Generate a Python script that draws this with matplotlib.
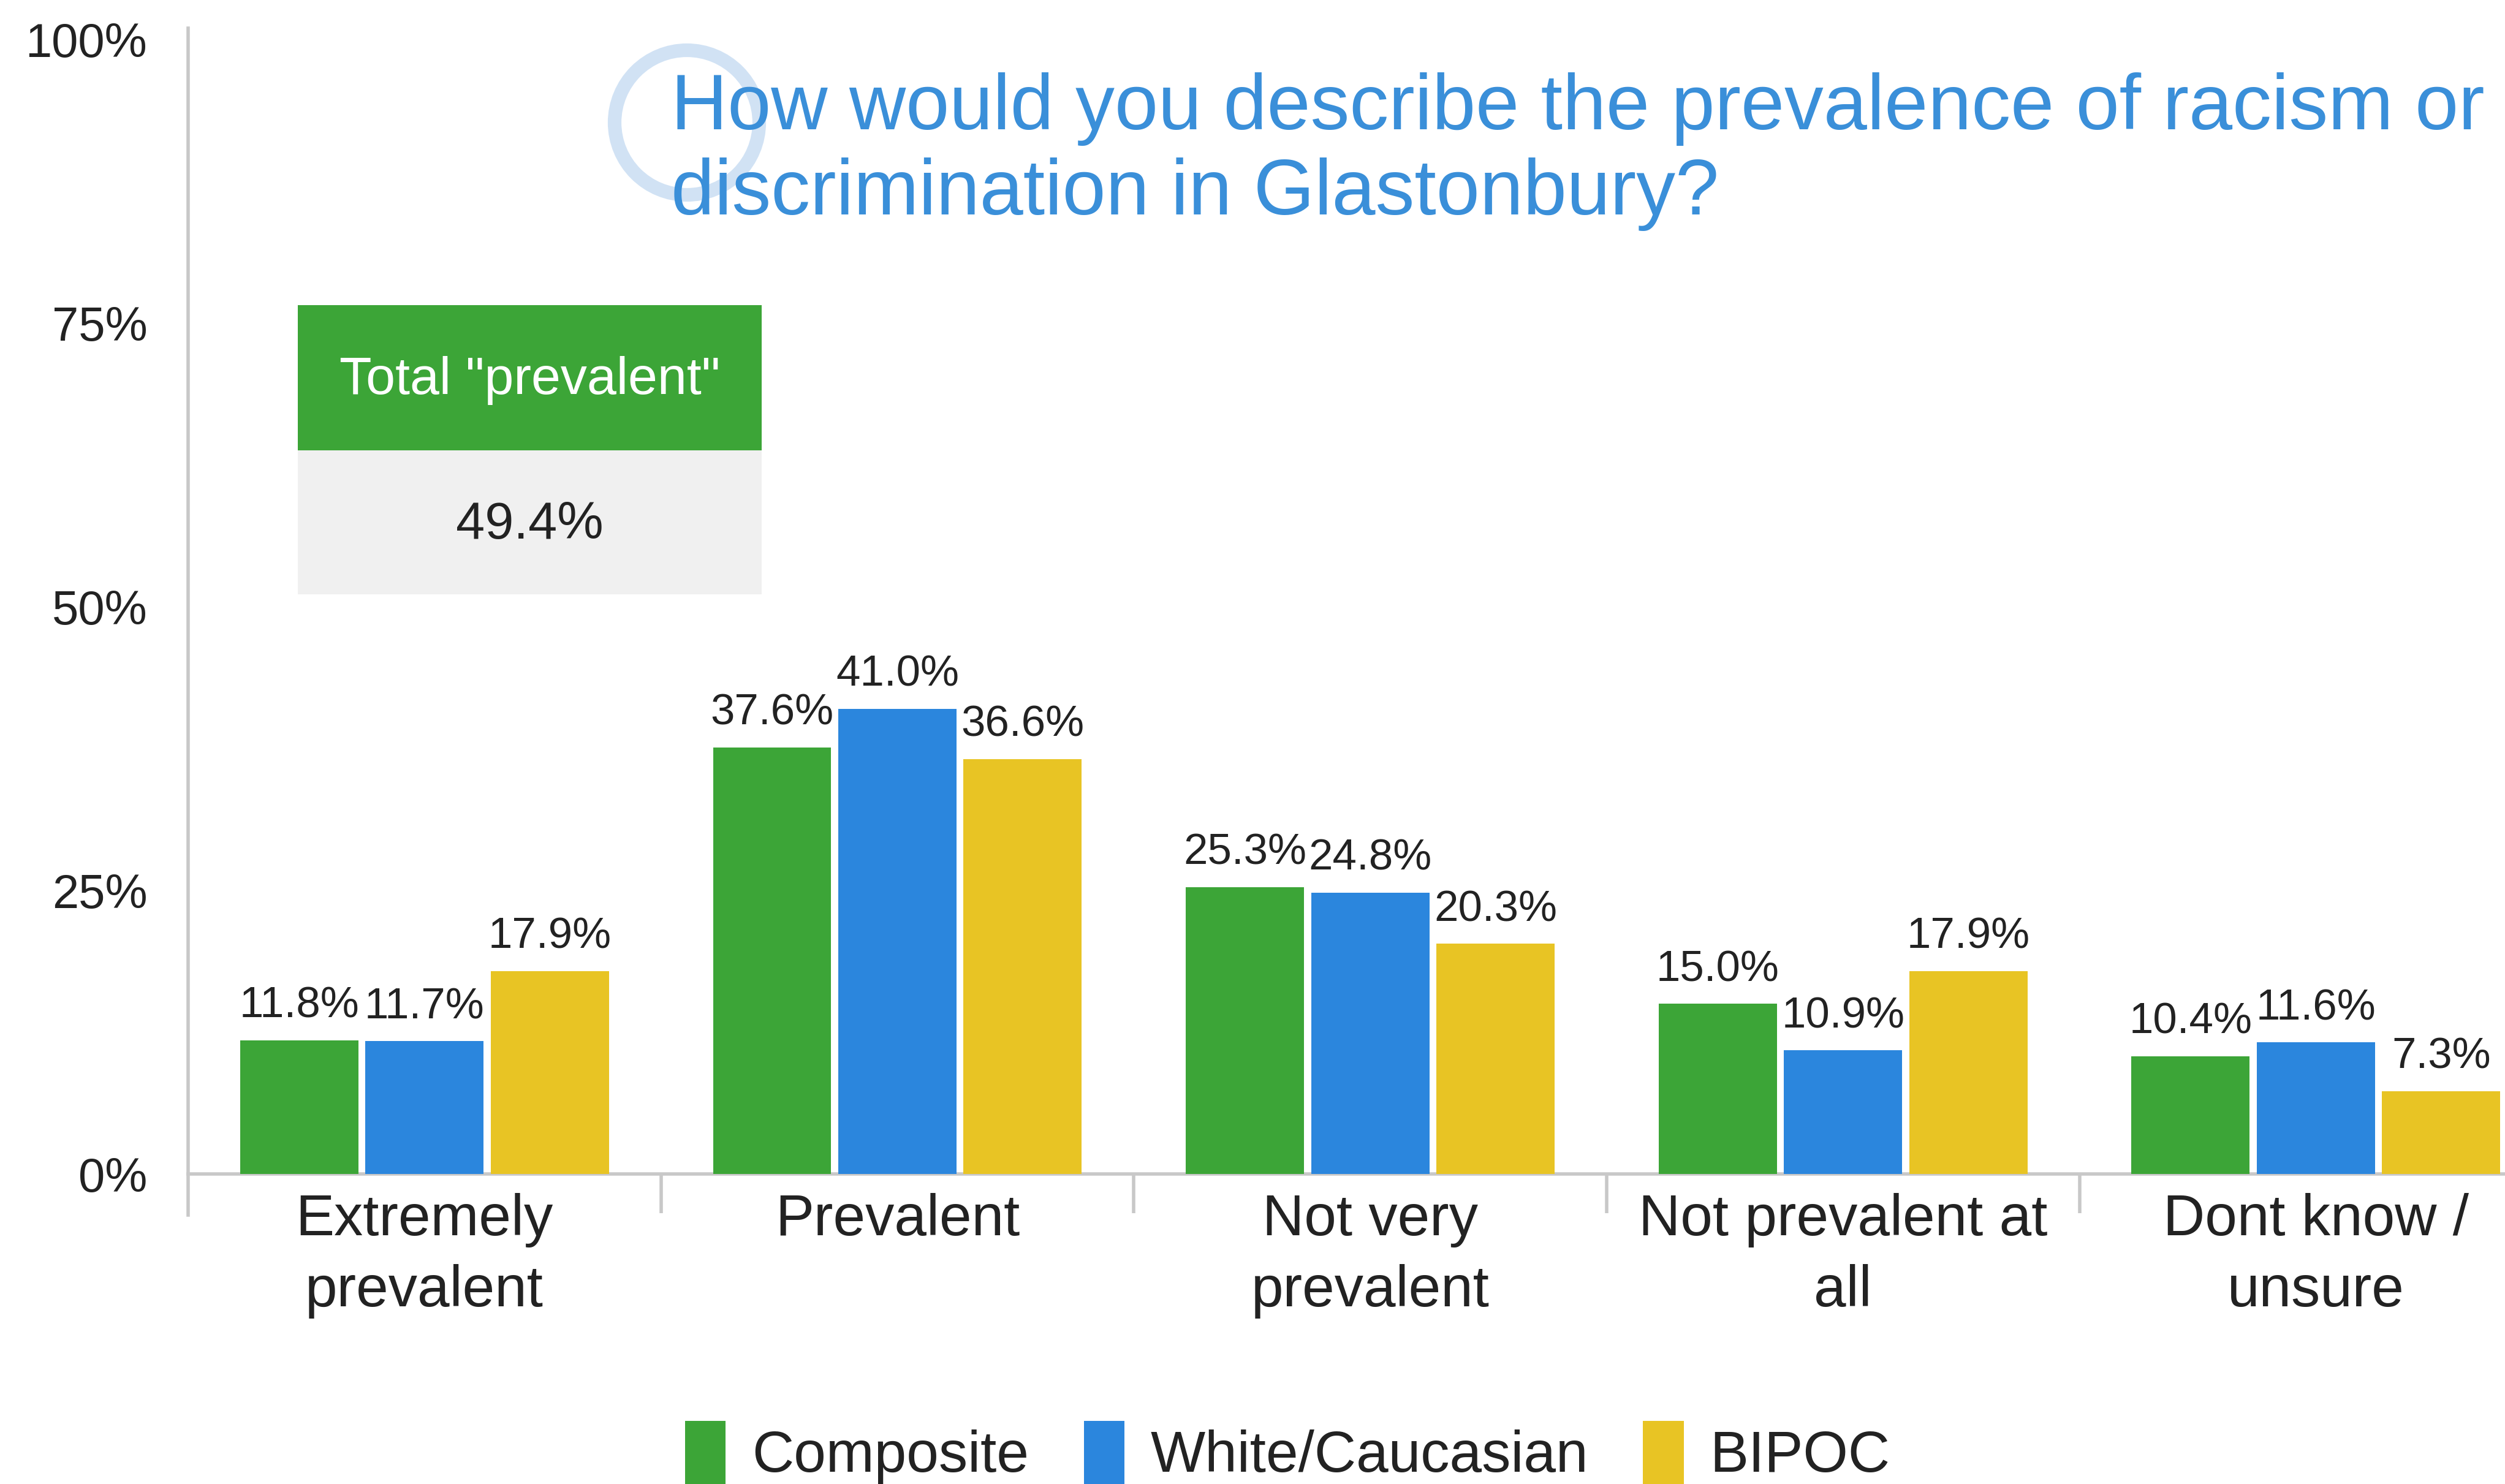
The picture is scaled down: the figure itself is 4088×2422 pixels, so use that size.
import numpy as np
import matplotlib
matplotlib.use('Agg')
import matplotlib.pyplot as plt
from matplotlib.patches import Rectangle, Ellipse

plt.rcParams['font.family'] = ['Liberation Sans', 'DejaVu Sans']

# Dati
categories = ["Extremely\nprevalent", "Prevalent", "Not very\nprevalent",
              "Not prevalent at\nall", "Dont know /\nunsure"]
series_names = ["Composite", "White/Caucasian", "BIPOC"]
composite = [11.8, 37.6, 25.3, 15.0, 10.4]
white = [11.7, 41.0, 24.8, 10.9, 11.6]
bipoc = [17.9, 36.6, 20.3, 17.9, 7.3]
y_ticks = [0, 25, 50, 75, 100]
title = "How would you describe the prevalence of racism or\ndiscrimination in Glastonbury?"
box_label = 'Total "prevalent"'
box_value = "49.4%"

colors = ["#3ca537", "#2b86dd", "#e8c424"]
text_color = "#222222"

fig = plt.figure(figsize=(40.88, 24.22), dpi=100)
ax = fig.add_axes([0.0751, 0.2089, 0.9249, 0.7643])

x = np.arange(len(categories))
width = 0.25
offsets = [-0.265, 0.0, 0.265]
for vals, off, col, name in zip([composite, white, bipoc], offsets, colors, series_names):
    bars = ax.bar(x + off, vals, width, color=col, label=name, zorder=3)
    for b, v in zip(bars, vals):
        ax.text(b.get_x() + b.get_width() / 2, v + 1.2, f"{v:.1f}%",
                ha='center', va='bottom', fontsize=51, color=text_color)

# assi
for s in ['top', 'right']:
    ax.spines[s].set_visible(False)
ax.spines['left'].set_color('#c8c8c8')
ax.spines['left'].set_linewidth(4)
ax.spines['left'].set_bounds(-3.6, 101)
ax.spines['bottom'].set_color('#c8c8c8')
ax.spines['bottom'].set_linewidth(4)

ax.set_yticks(y_ticks)
ax.set_yticklabels([f"{t}%" for t in y_ticks], fontsize=56, color=text_color)
ax.tick_params(axis='y', length=0, pad=48)

ax.set_xticks(x)
ax.set_xticklabels(categories, fontsize=68, color=text_color, linespacing=1.4)
ax.set_xticks(np.arange(len(categories)) + 0.5, minor=True)
ax.tick_params(axis='x', which='major', length=0, pad=22)
ax.tick_params(axis='x', which='minor', length=46, width=4, color='#c8c8c8')

# limiti dopo i tick (set_xticks allarga i limiti)
ax.set_xlim(-0.5, 4.4)
ax.set_ylim(0, 100)

# titolo con anello decorativo
fig.patches.append(Ellipse((1121 / 4088, 1 - 200 / 2422), 2 * 118 / 4088, 2 * 118 / 2422,
                           transform=fig.transFigure, fill=False, edgecolor='#b3d0ee',
                           linewidth=16, alpha=0.6, zorder=0))
fig.text(1095 / 4088, 1 - 118 / 2422, title, fontsize=92, color='#3a8fd9',
         ha='left', va='top', linespacing=1.2)

# box "Total prevalent"
fig.patches.append(Rectangle((0.119, 0.5995), 0.185, 0.097, transform=fig.transFigure,
                             facecolor='#f0f0f0', edgecolor='none', zorder=1))
fig.patches.append(Rectangle((0.119, 0.6965), 0.185, 0.0979, transform=fig.transFigure,
                             facecolor=colors[0], edgecolor='none', zorder=1))
fig.text(0.2115, 0.7435, box_label, fontsize=62, color='white', ha='center', va='center')
fig.text(0.2115, 0.646, box_value, fontsize=61, color=text_color, ha='center', va='center')

# legenda
fig.legend(loc='lower center', bbox_to_anchor=(0.514, -0.035), ncol=3, frameon=False,
           fontsize=68, handlelength=0.7, handleheight=1.3, handletextpad=0.45,
           columnspacing=0.95, labelcolor=text_color)

fig.savefig("out.png", dpi=100)
